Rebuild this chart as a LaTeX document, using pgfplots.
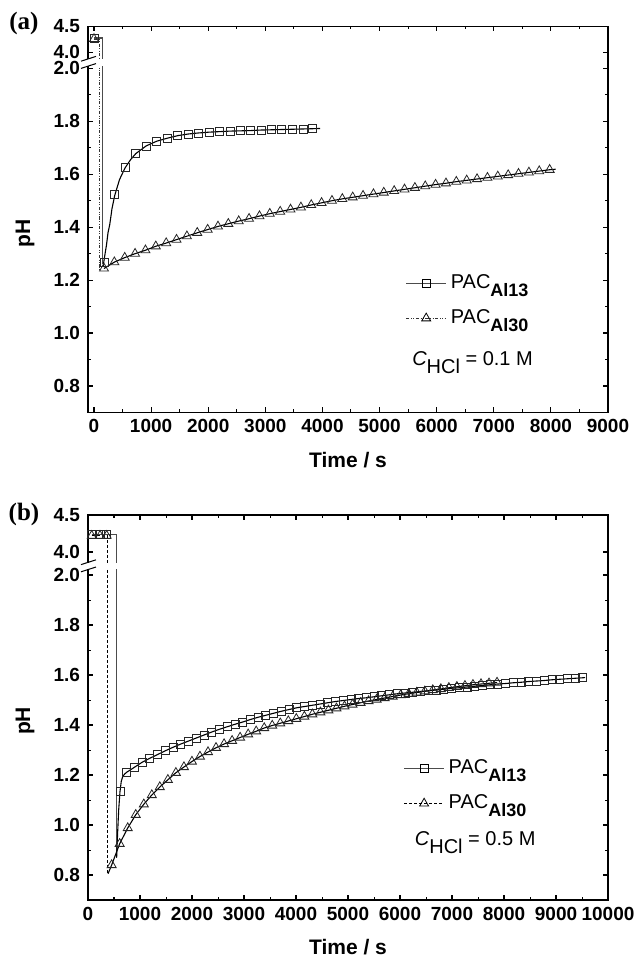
\documentclass[border=0pt]{standalone}
\usepackage{fontspec}
\setmainfont{Liberation Sans}
\newfontfamily\timesfont{Liberation Serif}
\usepackage{pgfplots}
\pgfplotsset{compat=1.18}

\pgfplotsset{
  phaxis/.style={
    scale only axis, width=260pt, clip=false,
    ymin=0.7, ymax=4.5,
    tick align=inside,
    major tick length=2.5pt, minor tick length=1.5pt,
    axis line style={line width=0.75pt},
    major tick style={black, line width=0.6pt},
    minor tick style={black, line width=0.5pt},
    ytick={0.8,1.0,1.2,1.4,1.6,1.8,2.0,4.0,4.5},
    yticklabels={0.8,1.0,1.2,1.4,1.6,1.8,2.0,4.0,4.5},
    minor ytick={0.9,1.1,1.3,1.5,1.7,1.9},
    minor x tick num=1,
    tick label style={font=\bfseries\fontsize{9.5}{10}\selectfont},
    yticklabel style={xshift=-0.5pt},
    /pgf/number format/assume math mode=true,
    /pgf/number format/1000 sep={},
    scaled x ticks=false,
    legend cell align=left,
    legend style={draw=none, fill=none, inner sep=0pt, row sep=5pt,
      font=\fontsize{10}{11}\selectfont, anchor=north west},
    legend image code/.code={\draw[mark repeat=2,mark phase=2,##1]
      plot coordinates {(0pt,0pt) (10pt,0pt) (20pt,0pt)};},
  },
  sqmark/.style={only marks, mark=square, mark size=2pt, mark options={black!85, line width=0.4pt}},
  trmark/.style={only marks, mark=triangle, mark size=2.6pt, mark options={black!85, line width=0.4pt}},
  fitline/.style={no marks, black, line width=0.55pt},
}
\tikzset{labfont/.style={font=\bfseries\fontsize{10.5}{12}\selectfont}}
\newcommand{\sub}[1]{\raisebox{-4pt}{#1}}

\begin{document}
\begin{tikzpicture}
\useasboundingbox (-44pt,-271.75pt) rectangle (272.5pt,206.25pt);

% ---------------- (a) ----------------
\begin{axis}[phaxis, at={(0pt,0pt)}, anchor=south west,
    height=193pt, xmin=-105, xmax=9000,
    xtick={0,1000,...,9000},
    y coord trafo/.code={\pgfmathparse{#1>3 ? 2.03+(#1-3.846)*0.196 : #1}},
    legend style={at={(rel axis cs:0.61,0.368)}},
]
\addlegendimage{gray!60!black, line width=0.6pt, mark=square, mark size=2pt, mark options={solid,black,line width=0.4pt}}
\addlegendentry{PAC\sub{\fontsize{9}{10}\selectfont\bfseries Al13}}
\addlegendimage{gray!40!black, line width=0.4pt, dash pattern=on 1.6pt off 0.8pt on 0.4pt off 0.8pt on 0.4pt off 0.8pt, mark=triangle, mark size=2.6pt, mark options={solid,black,line width=0.4pt}}
\addlegendentry{PAC\sub{\fontsize{9}{10}\selectfont\bfseries Al30}}

% raw records (start and drop)
\addplot[forget plot, gray!60!black, line width=0.6pt] coordinates {(0,4.28) (147,4.28) (147,1.26)};
\addplot[forget plot, gray!40!black, line width=0.4pt, dash pattern=on 1.6pt off 0.8pt on 0.4pt off 0.8pt on 0.4pt off 0.8pt]
  coordinates {(0,4.26) (88,4.26) (88,1.24)};

% Al13 fit
\addplot[forget plot, fitline] coordinates {
(158,1.25) (194,1.30) (217,1.33) (246,1.38) (276,1.41) (315,1.47) (363,1.52)
(447,1.58) (544,1.624) (640,1.655) (732,1.678) (913,1.707) (1100,1.725)
(1281,1.736) (1469,1.746) (1649,1.752) (1831,1.756) (2012,1.759) (2195,1.761)
(2381,1.763) (2563,1.764) (2745,1.765) (2927,1.767) (3108,1.768) (3289,1.769)
(3477,1.770) (3658,1.771) (3825,1.772) (3959,1.773)};
% Al30 fit
\addplot[forget plot, fitline] coordinates {
(175,1.244) (356,1.268) (538,1.285) (719,1.300) (901,1.313) (1082,1.328)
(1264,1.340) (1445,1.353) (1627,1.366) (1808,1.379) (1990,1.391) (2171,1.403)
(2352,1.413) (2534,1.423) (2715,1.432) (2897,1.442) (3078,1.451) (3260,1.459)
(3441,1.467) (3623,1.475) (3804,1.484) (3985,1.492) (4167,1.500) (4348,1.507)
(4530,1.513) (4711,1.519) (4893,1.525) (5074,1.531) (5256,1.537) (5437,1.543)
(5619,1.549) (5800,1.555) (5981,1.561) (6163,1.566) (6344,1.572) (6526,1.577)
(6707,1.582) (6889,1.587) (7070,1.592) (7252,1.597) (7433,1.602) (7615,1.607)
(7796,1.612) (7978,1.617) (8083,1.619)};

% Al13 points
\addplot[forget plot, sqmark] coordinates {
(0,4.28) (175,1.267) (363,1.524) (544,1.624) (732,1.678) (913,1.707)
(1100,1.725) (1281,1.736) (1469,1.746) (1649,1.752) (1831,1.756) (2012,1.759)
(2195,1.761) (2381,1.763) (2563,1.764) (2745,1.765) (2927,1.767) (3108,1.768)
(3289,1.769) (3477,1.770) (3658,1.771) (3825,1.772)};
% Al30 points
\addplot[forget plot, trmark] coordinates {
(0,4.26) (175,1.244) (356,1.268) (538,1.285) (719,1.300) (901,1.313) (1082,1.328)
(1264,1.340) (1445,1.353) (1627,1.366) (1808,1.379) (1990,1.391) (2171,1.403)
(2352,1.413) (2534,1.423) (2715,1.432) (2897,1.442) (3078,1.451) (3260,1.459)
(3441,1.467) (3623,1.475) (3804,1.484) (3985,1.492) (4167,1.500) (4348,1.507)
(4530,1.513) (4711,1.519) (4893,1.525) (5074,1.531) (5256,1.537) (5437,1.543)
(5619,1.549) (5800,1.555) (5981,1.561) (6163,1.566) (6344,1.572) (6526,1.577)
(6707,1.582) (6889,1.587) (7070,1.592) (7252,1.597) (7433,1.602) (7615,1.607)
(7796,1.612) (7978,1.617)};

\coordinate (brka) at (rel axis cs:0,0.907);
\node[anchor=west, font=\fontsize{10}{11}\selectfont] at (rel axis cs:0.61,0.13)
  {{\itshape C}\sub{HCl} = 0.1 M};
\node[rotate=90, labfont] at ([xshift=-31.5pt]rel axis cs:0,0.465) {pH};
\node[labfont] at ([yshift=-24pt]rel axis cs:0.5,0) {Time / s};
\node[anchor=center, font=\timesfont\bfseries\fontsize{12.5}{13}\selectfont] at ([xshift=-32pt,yshift=1.5pt]rel axis cs:0,1) {(a)};
\end{axis}
\fill[white] ([shift={(-1.2pt,-1.6pt)}]brka) rectangle ([shift={(8.5pt,1.6pt)}]brka);
\draw[line width=0.5pt] ([shift={(-3.5pt,-3.0pt)}]brka) -- ([shift={(4pt,-0.6pt)}]brka);
\draw[line width=0.5pt] ([shift={(-3.5pt,0.6pt)}]brka) -- ([shift={(4pt,3.0pt)}]brka);

% ---------------- (b) ----------------
\begin{axis}[phaxis, at={(0pt,-243.75pt)}, anchor=south west,
    height=192.5pt, xmin=0, xmax=10000,
    xtick={0,1000,...,10000},
    y coord trafo/.code={\pgfmathparse{#1>3 ? 2.048+(#1-3.851)*0.296 : #1}},
    legend style={at={(rel axis cs:0.606,0.375)}},
]
\addlegendimage{gray!60!black, line width=0.6pt, mark=square, mark size=2pt, mark options={solid,black,line width=0.4pt}}
\addlegendentry{PAC\sub{\fontsize{9}{10}\selectfont\bfseries Al13}}
\addlegendimage{black, line width=0.4pt, dash pattern=on 1.5pt off 1pt, mark=triangle, mark size=2.6pt, mark options={solid,black,line width=0.4pt}}
\addlegendentry{PAC\sub{\fontsize{9}{10}\selectfont\bfseries Al30}}

\addplot[forget plot, gray!60!black, line width=0.6pt] coordinates {(71,4.24) (551,4.24) (551,0.87)};
\addplot[forget plot, black, line width=0.4pt, dash pattern=on 1.5pt off 1pt] coordinates {(71,4.22) (378,4.22) (378,0.805)};

% Al13 fit
\addplot[forget plot, fitline] coordinates {
(551,0.87) (570,0.97) (590,1.06) (615,1.133) (640,1.175) (670,1.195) (710,1.205)
(744,1.211) (893,1.231) (1041,1.251) (1190,1.267) (1339,1.282) (1488,1.297)
(1636,1.311) (1785,1.324) (1934,1.336) (2082,1.348) (2231,1.360) (2380,1.372)
(2528,1.383) (2677,1.393) (2826,1.403) (2975,1.412) (3123,1.422) (3272,1.431)
(3421,1.439) (3569,1.447) (3718,1.455) (3867,1.462) (4015,1.469) (4164,1.474)
(4313,1.479) (4462,1.484) (4610,1.489) (4759,1.494) (4908,1.498) (5056,1.502)
(5205,1.506) (5354,1.509) (5503,1.513) (5651,1.517) (5800,1.521) (5949,1.525)
(6097,1.528) (6246,1.531) (6395,1.534) (6543,1.537) (6692,1.540) (6841,1.543)
(6989,1.547) (7138,1.549) (7287,1.552) (7436,1.555) (7584,1.558) (7733,1.561)
(7882,1.564) (8030,1.566) (8179,1.569) (8328,1.571) (8476,1.574) (8625,1.576)
(8774,1.578) (8922,1.581) (9071,1.583) (9220,1.585) (9368,1.587) (9517,1.589)
(9560,1.590)};
% Al30 fit
\addplot[forget plot, fitline] coordinates {
(385,0.805) (455,0.840) (609,0.925) (764,0.988) (918,1.041) (1073,1.083)
(1227,1.120) (1381,1.152) (1536,1.181) (1690,1.209) (1845,1.232) (1999,1.254)
(2153,1.274) (2308,1.292) (2462,1.309) (2617,1.324) (2771,1.337) (2925,1.350)
(3080,1.363) (3234,1.375) (3389,1.388) (3543,1.398) (3698,1.407) (3852,1.416)
(4006,1.425) (4161,1.434) (4315,1.443) (4470,1.451) (4624,1.459) (4778,1.467)
(4933,1.475) (5087,1.482) (5242,1.489) (5396,1.496) (5550,1.502) (5705,1.508)
(5859,1.514) (6014,1.520) (6168,1.525) (6322,1.530) (6477,1.535) (6631,1.540)
(6786,1.544) (6940,1.549) (7094,1.553) (7249,1.557) (7403,1.561) (7558,1.564)
(7712,1.567) (7866,1.570)};

% Al13 points
\addplot[forget plot, sqmark] coordinates {
(71,4.24) (231,4.24) (359,4.24)
(615,1.133) (744,1.211) (893,1.231) (1041,1.251) (1190,1.267) (1339,1.282) (1488,1.297)
(1636,1.311) (1785,1.324) (1934,1.336) (2082,1.348) (2231,1.360) (2380,1.372)
(2528,1.383) (2677,1.393) (2826,1.403) (2975,1.412) (3123,1.422) (3272,1.431)
(3421,1.439) (3569,1.447) (3718,1.455) (3867,1.462) (4015,1.469) (4164,1.474)
(4313,1.479) (4462,1.484) (4610,1.489) (4759,1.494) (4908,1.498) (5056,1.502)
(5205,1.506) (5354,1.509) (5503,1.513) (5651,1.517) (5800,1.521) (5949,1.525)
(6097,1.528) (6246,1.531) (6395,1.534) (6543,1.537) (6692,1.540) (6841,1.543)
(6989,1.547) (7138,1.549) (7287,1.552) (7436,1.555) (7584,1.558) (7733,1.561)
(7882,1.564) (8030,1.566) (8179,1.569) (8328,1.571) (8476,1.574) (8625,1.576)
(8774,1.578) (8922,1.581) (9071,1.583) (9220,1.585) (9368,1.587) (9517,1.589)};
% Al30 points
\addplot[forget plot, trmark] coordinates {
(71,4.22) (231,4.22) (359,4.22)
(455,0.840) (609,0.925) (764,0.988) (918,1.041) (1073,1.083)
(1227,1.120) (1381,1.152) (1536,1.181) (1690,1.209) (1845,1.232) (1999,1.254)
(2153,1.274) (2308,1.292) (2462,1.309) (2617,1.324) (2771,1.337) (2925,1.350)
(3080,1.363) (3234,1.375) (3389,1.388) (3543,1.398) (3698,1.407) (3852,1.416)
(4006,1.425) (4161,1.434) (4315,1.443) (4470,1.451) (4624,1.459) (4778,1.467)
(4933,1.475) (5087,1.482) (5242,1.489) (5396,1.496) (5550,1.502) (5705,1.508)
(5859,1.514) (6014,1.520) (6168,1.525) (6322,1.530) (6477,1.535) (6631,1.540)
(6786,1.544) (6940,1.549) (7094,1.553) (7249,1.557) (7403,1.561) (7558,1.564)
(7712,1.567) (7866,1.570)};

\coordinate (brkb) at (rel axis cs:0,0.868);
\node[anchor=west, font=\fontsize{10}{11}\selectfont] at (rel axis cs:0.615,0.148)
  {{\itshape C}\sub{HCl} = 0.5 M};
\node[rotate=90, labfont] at ([xshift=-31.5pt]rel axis cs:0,0.465) {pH};
\node[labfont] at ([yshift=-23.5pt]rel axis cs:0.5,0) {Time / s};
\node[anchor=center, font=\timesfont\bfseries\fontsize{12.5}{13}\selectfont] at ([xshift=-32pt,yshift=0.5pt]rel axis cs:0,1) {(b)};
\end{axis}
\fill[white] ([shift={(-1.2pt,-1.6pt)}]brkb) rectangle ([shift={(16pt,1.6pt)}]brkb);
\draw[line width=0.5pt] ([shift={(-3.5pt,-3.0pt)}]brkb) -- ([shift={(4pt,-0.6pt)}]brkb);
\draw[line width=0.5pt] ([shift={(-3.5pt,0.6pt)}]brkb) -- ([shift={(4pt,3.0pt)}]brkb);
\end{tikzpicture}
\end{document}
